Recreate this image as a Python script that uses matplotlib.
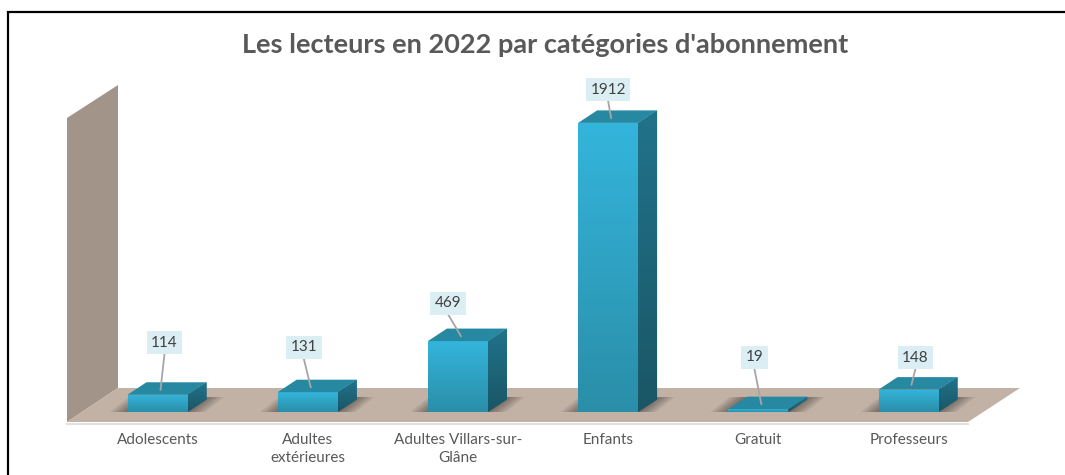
import numpy as np
import matplotlib.pyplot as plt
from matplotlib.patches import Polygon, Rectangle
from matplotlib.colors import LinearSegmentedColormap

# data
categories = ["Adolescents", "Adultes\nextérieures", "Adultes Villars-sur-\nGlâne",
              "Enfants", "Gratuit", "Professeurs"]
values = [114, 131, 469, 1912, 19, 148]
title = "Les lecteurs en 2022 par catégories d'abonnement"

# data labels were moved by hand in the original, offsets in pixels
label_dx = [7, -4, -10, 0, -4, 7]
label_dy = [52, 45, 38, 33, 52, 32]

W, H = 1065, 475
fig = plt.figure(figsize=(W / 100, H / 100), dpi=100)
ax = fig.add_axes([0, 0, 1, 1])
ax.axis("off")

# pixel geometry of the fake 3d scene
x0_px, step_px = 157.5, 150.2     # first category centre, category spacing
base_py, unit_py = 412, 0.1512    # bar base (from top), pixels per reader


def X(px):
    return (px - x0_px) / step_px


def Y(py):
    return (base_py - py) / unit_py


bw = 60 / step_px          # bar width
ddx = 19 / step_px         # bar depth offset
ddy = 12.5 / unit_py

ax.set_xlim(X(0), X(W))
ax.set_ylim(Y(H), Y(0))

# back wall and floor
wall = Polygon([(X(67), Y(422)), (X(67), Y(118)), (X(118), Y(85)), (X(118), Y(388))],
               closed=True, fc="#a39489", ec="none", zorder=1)
ax.add_patch(wall)
floor = Polygon([(X(67), Y(422)), (X(118), Y(388)), (X(1020), Y(388)), (X(968), Y(422))],
                closed=True, fc="#c2b2a6", ec="none", zorder=1)
ax.add_patch(floor)
ax.plot([X(67), X(968)], [Y(423.5), Y(423.5)], color="#e4e0dc", lw=1.5, zorder=1)

xs = np.arange(len(values))

# soft shadows on the floor
for c in xs:
    for k in range(7):
        e = (18 - 2.5 * k) / step_px
        sh = Polygon([(c - bw / 2 - e, 0), (c + bw / 2 + e, 0),
                      (c + bw / 2 + ddx + e, ddy * 1.2), (c - bw / 2 + ddx - e, ddy * 1.2)],
                     closed=True, fc="black", ec="none", alpha=0.06, zorder=2)
        ax.add_patch(sh)

front_cmap = LinearSegmentedColormap.from_list("front", ["#2a8ea8", "#34b5dc"])
side_cmap = LinearSegmentedColormap.from_list("side", ["#1a5666", "#21738b"])
grad = np.linspace(0, 1, 256).reshape(-1, 1)

bars = ax.bar(xs, values, width=bw, color="#31aed4", linewidth=0, zorder=3)

for c, v, b in zip(xs, values, bars):
    im = ax.imshow(grad, extent=[c - bw / 2, c + bw / 2, 0, max(v, 1)], origin="lower",
                   aspect="auto", cmap=front_cmap, zorder=3.1)
    im.set_clip_path(b)
    side = Polygon([(c + bw / 2, 0), (c + bw / 2 + ddx, ddy),
                    (c + bw / 2 + ddx, v + ddy), (c + bw / 2, v)],
                   closed=True, fc="#1e6579", ec="none", zorder=3)
    ax.add_patch(side)
    ims = ax.imshow(grad, extent=[c + bw / 2, c + bw / 2 + ddx, 0, v + ddy], origin="lower",
                    aspect="auto", cmap=side_cmap, zorder=3.1)
    ims.set_clip_path(side)
    top = Polygon([(c - bw / 2, v), (c + bw / 2, v),
                   (c + bw / 2 + ddx, v + ddy), (c - bw / 2 + ddx, v + ddy)],
                  closed=True, fc="#2788a2", ec="none", zorder=3.2)
    ax.add_patch(top)

ax.set_xlim(X(0), X(W))
ax.set_ylim(Y(H), Y(0))

# data labels with leader lines
for c, v, dx, dy in zip(xs, values, label_dx, label_dy):
    lx = c + dx / step_px
    ly = v + dy / unit_py
    ax.plot([lx, c + 0.02], [ly - 11 / unit_py, v + ddy * 0.4],
            color="#a6a6a6", lw=1.3, zorder=4)
    ax.text(lx, ly, str(v), ha="center", va="center", fontsize=11, family="Lato",
            color="#404040", zorder=5,
            bbox=dict(boxstyle="square,pad=0.3", fc="#dbeef4", ec="none"))

# category labels
for c, name in zip(xs, categories):
    ax.text(c, Y(433), name, ha="center", va="top", fontsize=11, family="Lato",
            color="#595959", linespacing=1.4)

fig.text(545 / W, 1 - 45 / H, title, ha="center", va="center", fontsize=19.5,
         fontweight="bold", family="Lato", color="#595959")

# chart frame, cut at the right and bottom edges
fig.patches.append(Rectangle((8 / W, -0.1), 1.2, 1.1 - 12 / H, transform=fig.transFigure,
                             fill=False, ec="black", lw=1.6))

fig.savefig("out.png", dpi=100, facecolor="white")
